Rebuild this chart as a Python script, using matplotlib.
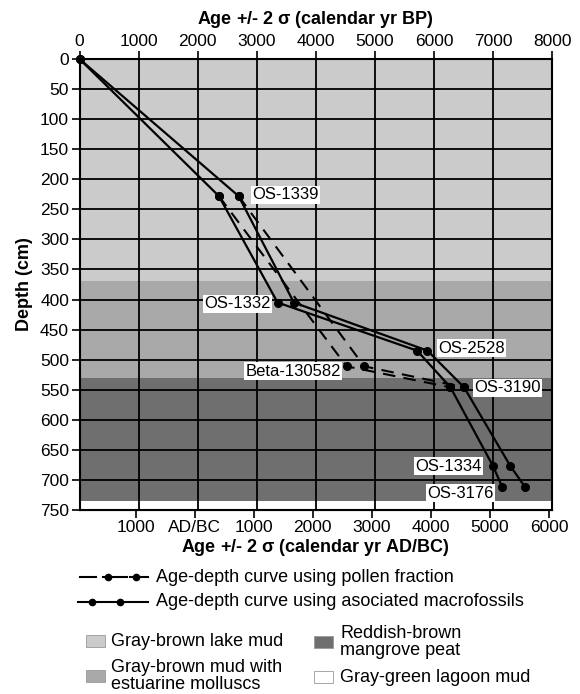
import numpy as np
import matplotlib.pyplot as plt

# フォント設定
plt.rcParams['font.family'] = ['Liberation Sans', 'DejaVu Sans']
plt.rcParams['font.size'] = 12

# 年代 (cal yr BP) と深度 (cm)
depth_macro = [0, 228, 405, 485, 546, 677, 711]
age_macro_lo = [0, 2360, 3354, 5716, 6281, 7002, 7154]
age_macro_hi = [0, 2694, 3629, 5892, 6511, 7296, 7538]

depth_pollen = [228, 511, 546]
age_pollen_lo = [2360, 4521, 6281]
age_pollen_hi = [2694, 4819, 6511]

sample_names = ['OS-1339', 'OS-1332', 'OS-2528', 'Beta-130582', 'OS-3190', 'OS-1334', 'OS-3176']
label_age = [3486, 2673, 6633, 3613, 7250, 6252, 6455]
label_depth = [226, 407, 481, 519, 547, 677, 722]

# 堆積相
unit_top = [0, 370, 530, 735]
unit_bottom = [370, 530, 735, 750]
unit_color = ['#cbcbcb', '#a9a9a9', '#6f6f6f', '#ffffff']
unit_name = ['Gray-brown lake mud', 'Gray-brown mud with\nestuarine molluscs',
             'Reddish-brown\nmangrove peat', 'Gray-green lagoon mud']

top_ticks = np.arange(0, 8001, 1000)
bottom_ticks = [950, 1950, 2950, 3950, 4950, 5950, 6950, 7950]
bottom_labels = ['1000', 'AD/BC', '1000', '2000', '3000', '4000', '5000', '6000']

fig = plt.figure(figsize=(5.8, 6.94), dpi=100)
ax = fig.add_axes([79.5 / 580, 1 - 510 / 694, (552 - 79.5) / 580, (510 - 59) / 694])

for t, b, c in zip(unit_top, unit_bottom, unit_color):
    ax.axhspan(t, b, color=c, lw=0, zorder=0.2)

ax.set_xlim(0, 8000)
ax.set_ylim(750, 0)
ax.set_axisbelow(True)
ax.grid(True, color='black', lw=1.3)

# 大型化石の曲線 (実線)
for ages in (age_macro_lo, age_macro_hi):
    ax.plot(ages, depth_macro, color='black', lw=1.6, marker='o', ms=5.5,
            zorder=3, clip_on=False)

# 花粉の曲線 (破線)
for ages in (age_pollen_lo, age_pollen_hi):
    ax.plot(ages, depth_pollen, color='black', lw=1.5, ls=(0, (6, 4)),
            marker='o', ms=5.5, zorder=3)

for name, a, d in zip(sample_names, label_age, label_depth):
    ax.text(a, d, name, ha='center', va='center', fontsize=12, zorder=4,
            bbox=dict(facecolor='white', edgecolor='none', pad=1))

ax.xaxis.tick_top()
ax.xaxis.set_label_position('top')
ax.set_xticks(top_ticks)
ax.set_yticks(np.arange(0, 751, 50))
ax.tick_params(direction='out', length=6, width=1.2, color='black', labelsize=12.5, pad=1.5)
ax.set_xlabel('Age +/- 2 $\\mathregular{\\sigma}$ (calendar yr BP)', fontweight='bold', fontsize=13, labelpad=7)
ax.set_ylabel('Depth (cm)', fontweight='bold', fontsize=13, labelpad=5)
for s in ax.spines.values():
    s.set_linewidth(1.5)

sec = ax.secondary_xaxis('bottom')
sec.set_xticks(bottom_ticks, labels=bottom_labels)
sec.tick_params(direction='out', length=6, width=1.2, labelsize=12.5, pad=1.5)
sec.spines['bottom'].set_linewidth(1.5)
sec.set_xlabel('Age +/- 2 $\\mathregular{\\sigma}$ (calendar yr AD/BC)', fontweight='bold', fontsize=13, labelpad=1)

# 凡例 (ピクセル座標)
lg = fig.add_axes([0, 0, 1, 1])
lg.set_xlim(0, 580)
lg.set_ylim(694, 0)
lg.axis('off')

for x0, x1 in [(80, 96), (103, 127), (130, 148)]:
    lg.plot([x0, x1], [577, 577], color='black', lw=1.5)
lg.plot([108, 136], [577, 577], ls='none', marker='o', ms=4.5, color='black')
lg.text(156, 577, 'Age-depth curve using pollen fraction', va='center', fontsize=13)

lg.plot([78, 148], [602, 602], color='black', lw=1.5)
lg.plot([92, 120], [602, 602], ls='none', marker='o', ms=4.5, color='black')
lg.text(156, 602, 'Age-depth curve using asociated macrofossils', va='center', fontsize=13)

sw_x = [86, 86, 314, 314]
sw_y = [641, 676, 642, 677]
txt_x = [111, 111, 340, 340]
for c, n, x, y, tx in zip(unit_color, unit_name, sw_x, sw_y, txt_x):
    lg.add_patch(plt.Rectangle((x, y - 6), 19, 12, facecolor=c, edgecolor='#999999', lw=0.6))
    lg.text(tx, y, n, va='center', fontsize=13, linespacing=0.95)

plt.savefig('out.png', dpi=100)
